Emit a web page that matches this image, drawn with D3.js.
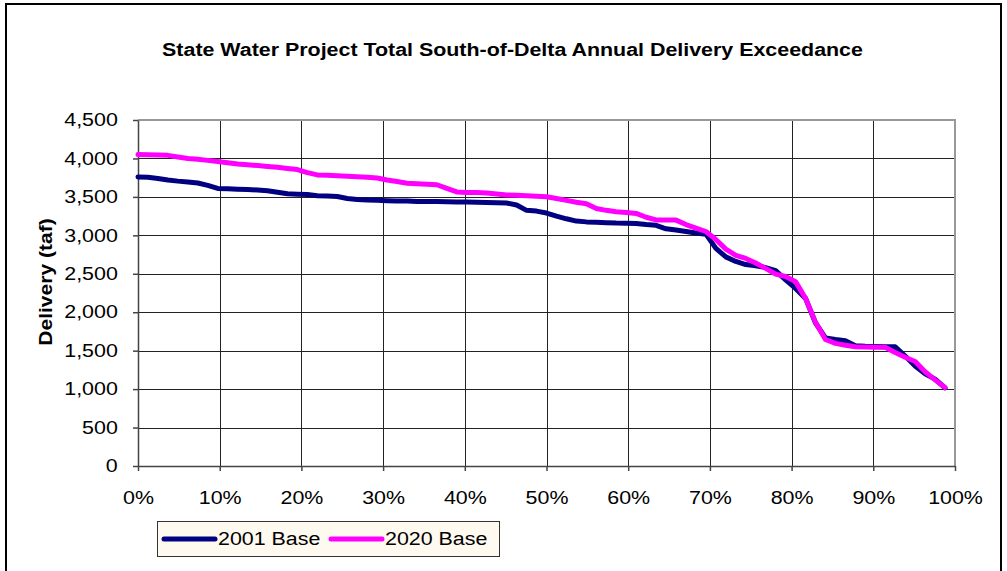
<!DOCTYPE html>
<html>
<head>
<meta charset="utf-8">
<script src="https://cdn.jsdelivr.net/npm/d3@7"></script>
<style>
  html, body { margin: 0; padding: 0; background: #fff; }
  svg { display: block; font-family: "Liberation Sans", Arial, sans-serif; }
</style>
</head>
<body>
<svg id="chart" width="1007" height="571"></svg>
<script>
// exceedance values, 82 sorted years, plotted at i/82
var SERIES_NAMES = ["2001 Base", "2020 Base"];
var BASE_2001 = [
  3760, 3755, 3740, 3720, 3705, 3695, 3680, 3650, 3610, 3605,
  3600, 3595, 3590, 3580, 3560, 3540, 3535, 3530, 3515, 3510,
  3505, 3480, 3465, 3460, 3455, 3450, 3445, 3445, 3440, 3440,
  3440, 3438, 3435, 3432, 3430, 3428, 3425, 3420, 3395, 3325,
  3315, 3290, 3250, 3215, 3185, 3175, 3170, 3165, 3160, 3158,
  3155, 3140, 3130, 3085, 3070, 3050, 3030, 3015, 2830, 2720,
  2660, 2620, 2605, 2580, 2540, 2420, 2310, 2180, 1860, 1665,
  1645, 1630, 1565, 1558, 1555, 1552, 1550, 1430, 1300, 1200,
  1130, 1015
];
var BASE_2020 = [
  4050, 4048, 4045, 4040, 4020, 4000, 3990, 3975, 3960, 3945,
  3928, 3918, 3908, 3896, 3885, 3870, 3855, 3815, 3786, 3780,
  3775, 3768, 3762, 3755, 3745, 3720, 3699, 3678, 3672, 3665,
  3658, 3610, 3565, 3556, 3556, 3550, 3537, 3525, 3520, 3514,
  3508, 3502, 3480, 3455, 3430, 3412, 3350, 3325, 3308, 3298,
  3285, 3235, 3200, 3200, 3198, 3140, 3095, 3050, 2945, 2820,
  2740, 2700, 2640, 2570, 2495, 2465, 2398, 2180, 1870, 1645,
  1595, 1570, 1551, 1548, 1546, 1544, 1475, 1415, 1360, 1225,
  1120, 1020
];
var Y_TICKS = [0, 500, 1000, 1500, 2000, 2500, 3000, 3500, 4000, 4500];
var X_TICKS = [0, 0.1, 0.2, 0.3, 0.4, 0.5, 0.6, 0.7, 0.8, 0.9, 1.0];

var plot = {left: 138, right: 955, top: 120, bottom: 466};
var STRETCH = "scale(1.19,1)"; // the reference text is drawn a bit wide
var svg = d3.select("#chart");

var x = d3.scaleLinear().domain([0, 1]).range([plot.left, plot.right]);
var y = d3.scaleLinear().domain([0, 4500]).range([plot.bottom, plot.top]);
var z = d3.scaleOrdinal().domain(SERIES_NAMES).range(["#000080", "#ff00ff"]);

// outer chart frame (cropped at bottom)
svg.append("path")
  .attr("d", "M6,600 V4 H1001 V600")
  .attr("fill", "none")
  .attr("stroke", "#000")
  .attr("stroke-width", 2);

svg.append("text")
  .attr("transform", "translate(512.5,56) " + STRETCH)
  .attr("text-anchor", "middle")
  .attr("font-weight", "bold")
  .attr("font-size", "18px")
  .text("State Water Project Total South-of-Delta Annual Delivery Exceedance");

// gridlines
svg.append("g")
  .selectAll("line")
  .data(Y_TICKS.slice(1, -1))
  .enter().append("line")
    .attr("x1", plot.left).attr("x2", plot.right)
    .attr("y1", function(d) { return Math.round(y(d)) + 0.5; })
    .attr("y2", function(d) { return Math.round(y(d)) + 0.5; })
    .attr("stroke", "#222");

svg.append("g")
  .selectAll("line")
  .data(X_TICKS.slice(1, -1))
  .enter().append("line")
    .attr("y1", plot.top).attr("y2", plot.bottom)
    .attr("x1", function(d) { return Math.round(x(d)) + 0.5; })
    .attr("x2", function(d) { return Math.round(x(d)) + 0.5; })
    .attr("stroke", "#222");

// plot area border (top/right)
svg.append("path")
  .attr("d", "M" + plot.left + "," + plot.top + " H" + plot.right + " V" + plot.bottom)
  .attr("fill", "none")
  .attr("stroke", "#999")
  .attr("stroke-width", 2);

svg.append("g")
  .attr("class", "x axis")
  .attr("transform", "translate(0," + plot.bottom + ")")
  .call(d3.axisBottom(x).tickValues(X_TICKS).tickFormat(d3.format(".0%")).tickSizeInner(5).tickSizeOuter(0).tickPadding(20));

svg.append("g")
  .attr("class", "y axis")
  .attr("transform", "translate(" + plot.left + ",0)")
  .call(d3.axisLeft(y).tickValues(Y_TICKS).tickFormat(d3.format(",")).tickSizeInner(5).tickSizeOuter(0).tickPadding(12));

svg.selectAll(".axis text")
  .attr("font-family", "Liberation Sans, Arial, sans-serif")
  .attr("font-size", "18px")
  .attr("fill", "#000")
  .attr("transform", STRETCH);
svg.selectAll(".axis path, .axis line")
  .attr("stroke", "#444")
  .attr("stroke-width", 1.5);

svg.append("text")
  .attr("transform", "translate(52,282) rotate(-90) scale(1.17,1)")
  .attr("text-anchor", "middle")
  .attr("font-weight", "bold")
  .attr("font-size", "18px")
  .text("Delivery (taf)");

var line = d3.line()
  .x(function(d, i) { return x(i / 82); })
  .y(function(d) { return y(d); });

svg.append("g")
  .selectAll("path")
  .data([BASE_2001, BASE_2020])
  .enter().append("path")
    .attr("d", line)
    .attr("fill", "none")
    .attr("stroke", function(d, i) { return z(SERIES_NAMES[i]); })
    .attr("stroke-width", 5)
    .attr("stroke-linejoin", "round")
    .attr("stroke-linecap", "round");

// legend
var legend = svg.append("g").attr("class", "legend");
legend.append("rect")
  .attr("x", 157.5).attr("y", 521.5)
  .attr("width", 342).attr("height", 35)
  .attr("fill", "#fffaf0")
  .attr("stroke", "#333");

var item = legend.selectAll("g")
  .data(SERIES_NAMES)
  .enter().append("g")
    .attr("transform", function(d, i) { return "translate(" + (164 + i * 167) + ",539)"; });

item.append("line")
  .attr("x1", 0).attr("x2", 51)
  .attr("stroke", z)
  .attr("stroke-width", 5)
  .attr("stroke-linecap", "round");

item.append("text")
  .attr("transform", "translate(54,0) " + STRETCH)
  .attr("dy", "0.35em")
  .attr("font-size", "18px")
  .text(function(d) { return d; });
</script>
</body>
</html>
